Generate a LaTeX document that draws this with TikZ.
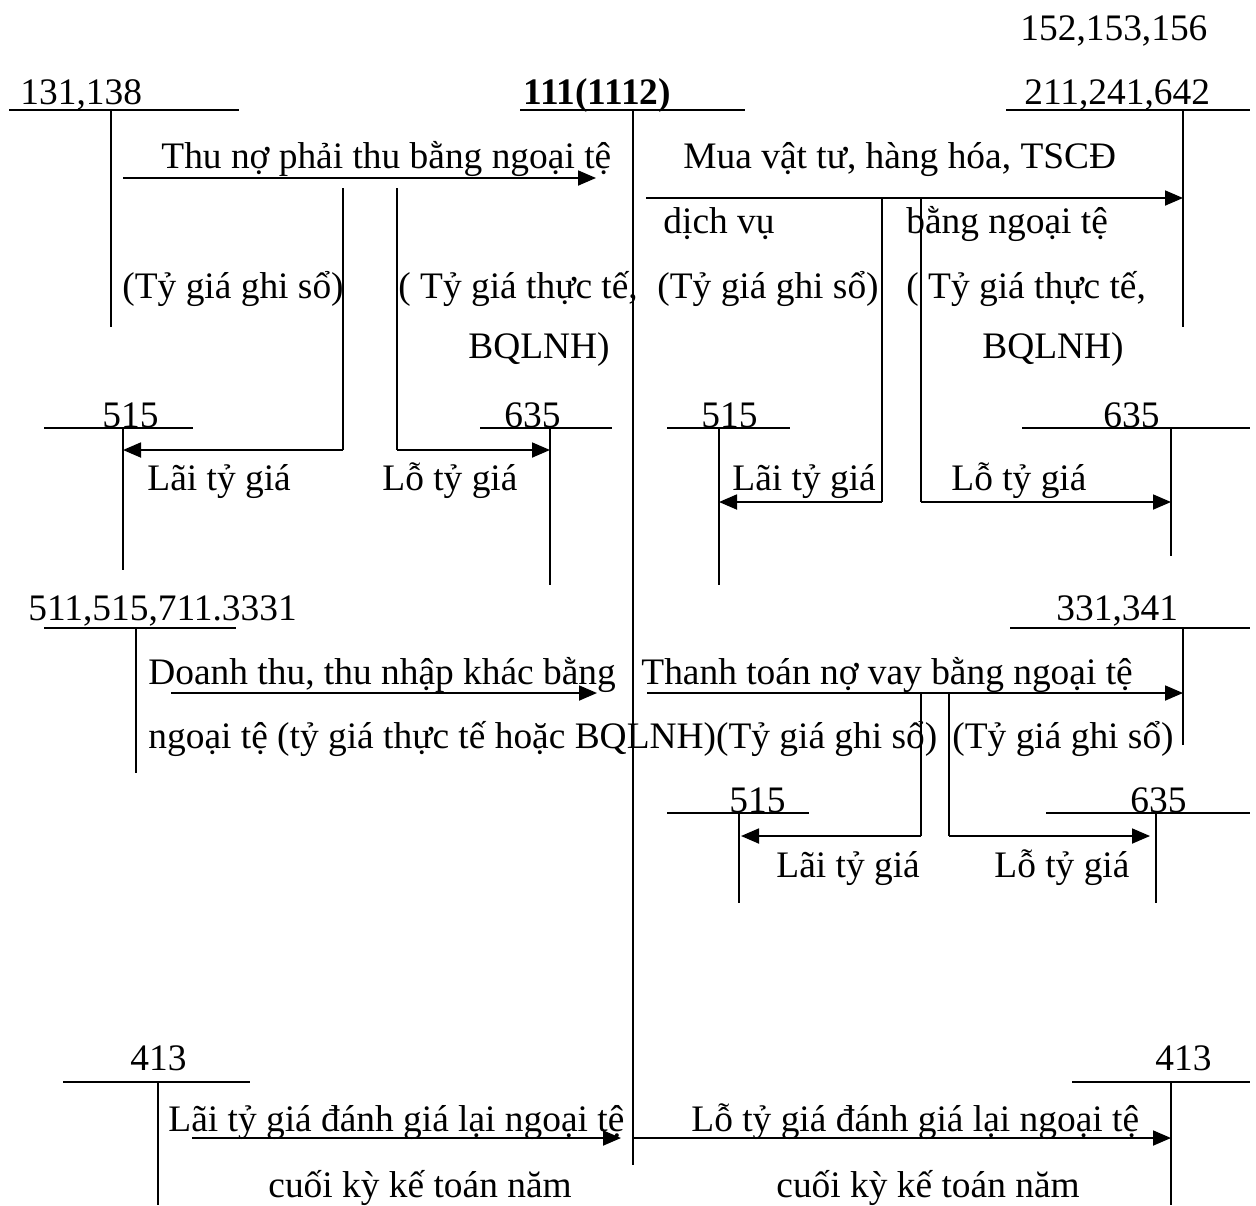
\documentclass[tikz,border=0pt]{standalone}
\usepackage{fontspec}
\setmainfont{Liberation Serif}
\usetikzlibrary{arrows.meta}
\begin{document}
\begin{tikzpicture}[x=0.5pt,y=-0.5pt,
  lbl/.style={anchor=base west,inner sep=0pt,font=\fontsize{18.7}{22}\selectfont},
  hbar/.style={line width=0.9pt},
  vbar/.style={line width=0.7pt},
  arr/.style={line width=0.9pt,-{Triangle[length=9pt,width=7.5pt]}},
  leg/.style={line width=0.7pt}]
\useasboundingbox (0,0) rectangle (1256,1205);

% ---------- labels of accounts ----------
\node[lbl] (l152) at (1020,40) {152,153,156};
\node[lbl] (l131) at (20,104) {131,138};
\node[lbl,font=\fontsize{18.7}{22}\selectfont\bfseries] (l111) at (523,104) {111(1112)};
\node[lbl] (l211) at (1024,104) {211,241,642};

% ---------- T accounts: top row ----------
\coordinate (h131a) at (9,110);   \coordinate (h131b) at (239,110);
\coordinate (v131a) at (111,110); \coordinate (v131b) at (111,327);
\draw[hbar] (h131a) -- (h131b);
\draw[vbar] (v131a) -- (v131b);

\coordinate (h111a) at (520,110); \coordinate (h111b) at (745,110);
\coordinate (v111a) at (633,110); \coordinate (v111b) at (633,1165);
\draw[hbar] (h111a) -- (h111b);
\draw[vbar] (v111a) -- (v111b);

\coordinate (h211a) at (1006,110); \coordinate (h211b) at (1250,110);
\coordinate (v211a) at (1183,110); \coordinate (v211b) at (1183,327);
\draw[hbar] (h211a) -- (h211b);
\draw[vbar] (v211a) -- (v211b);

% ---------- left block: Thu no ----------
\coordinate (a1s) at (123,178); \coordinate (a1e) at (596,178);
\draw[arr] (a1s) -- (a1e);
\node[lbl] (t1) at (161,168) {Thu nợ phải thu bằng ngoại tệ};
\node[lbl] (t2) at (122,298) {(Tỷ giá ghi sổ)};
\node[lbl] (t3) at (398,298) {( Tỷ giá thực tế,};
\node[lbl] (t4) at (468,358) {BQLNH)};

\coordinate (g1) at (343,188); \coordinate (g1b) at (343,450);
\coordinate (k1) at (397,188); \coordinate (k1b) at (397,450);

\node[lbl] (l515a) at (102,427) {515};
\coordinate (h515aa) at (44,428); \coordinate (h515ab) at (193,428);
\coordinate (v515aa) at (123,428); \coordinate (v515ab) at (123,570);
\draw[hbar] (h515aa) -- (h515ab);
\draw[vbar] (v515aa) -- (v515ab);
\coordinate (e515a) at (123,450);
\draw[leg] (g1) -- (g1b);
\draw[arr] (g1b) -- (e515a);
\node[lbl] (t5) at (147,490) {Lãi tỷ giá};

\node[lbl] (l635a) at (504,427) {635};
\coordinate (h635aa) at (480,428); \coordinate (h635ab) at (612,428);
\coordinate (v635aa) at (550,428); \coordinate (v635ab) at (550,585);
\draw[hbar] (h635aa) -- (h635ab);
\draw[vbar] (v635aa) -- (v635ab);
\coordinate (e635a) at (550,450);
\draw[leg] (k1) -- (k1b);
\draw[arr] (k1b) -- (e635a);
\node[lbl] (t6) at (382,490) {Lỗ tỷ giá};

% ---------- right block: Mua vat tu ----------
\coordinate (a2s) at (646,198); \coordinate (a2e) at (1183,198);
\draw[arr] (a2s) -- (a2e);
\node[lbl] (t7) at (683,168) {Mua vật tư, hàng hóa, TSCĐ};
\node[lbl] (t8) at (663,233) {dịch vụ};
\node[lbl] (t9) at (906,233) {bằng ngoại tệ};
\node[lbl] (t10) at (657,298) {(Tỷ giá ghi sổ)};
\node[lbl] (t11) at (906,298) {( Tỷ giá thực tế,};
\node[lbl] (t12) at (982,358) {BQLNH)};

\coordinate (g2) at (882,198); \coordinate (g2b) at (882,502);
\coordinate (k2) at (921,198); \coordinate (k2b) at (921,502);

\node[lbl] (l515b) at (701,427) {515};
\coordinate (h515ba) at (667,428); \coordinate (h515bb) at (790,428);
\coordinate (v515ba) at (719,428); \coordinate (v515bb) at (719,585);
\draw[hbar] (h515ba) -- (h515bb);
\draw[vbar] (v515ba) -- (v515bb);
\coordinate (e515b) at (719,502);
\draw[leg] (g2) -- (g2b);
\draw[arr] (g2b) -- (e515b);
\node[lbl] (t13) at (732,490) {Lãi tỷ giá};

\node[lbl] (l635b) at (1103,427) {635};
\coordinate (h635ba) at (1022,428); \coordinate (h635bb) at (1250,428);
\coordinate (v635ba) at (1171,428); \coordinate (v635bb) at (1171,556);
\draw[hbar] (h635ba) -- (h635bb);
\draw[vbar] (v635ba) -- (v635bb);
\coordinate (e635b) at (1171,502);
\draw[leg] (k2) -- (k2b);
\draw[arr] (k2b) -- (e635b);
\node[lbl] (t14) at (951,490) {Lỗ tỷ giá};

% ---------- middle row ----------
\node[lbl] (l511) at (28,620) {511,515,711.3331};
\coordinate (h511a) at (44,628); \coordinate (h511b) at (236,628);
\coordinate (v511a) at (136,628); \coordinate (v511b) at (136,773);
\draw[hbar] (h511a) -- (h511b);
\draw[vbar] (v511a) -- (v511b);
\coordinate (a3s) at (171,693); \coordinate (a3e) at (597,693);
\draw[arr] (a3s) -- (a3e);
\node[lbl] (t15) at (148,684) {Doanh thu, thu nhập khác bằng};
\node[lbl] (t16) at (148,748) {ngoại tệ (tỷ giá thực tế hoặc BQLNH)(Tỷ giá ghi sổ)};

\node[lbl] (l331) at (1056,620) {331,341};
\coordinate (h331a) at (1010,628); \coordinate (h331b) at (1250,628);
\coordinate (v331a) at (1183,628); \coordinate (v331b) at (1183,745);
\draw[hbar] (h331a) -- (h331b);
\draw[vbar] (v331a) -- (v331b);
\coordinate (a4s) at (647,693); \coordinate (a4e) at (1183,693);
\draw[arr] (a4s) -- (a4e);
\node[lbl] (t17) at (641,684) {Thanh toán nợ vay bằng ngoại tệ};
\node[lbl] (t18) at (952,748) {(Tỷ giá ghi sổ)};

\coordinate (g3) at (921,693); \coordinate (g3b) at (921,836);
\coordinate (k3) at (949,693); \coordinate (k3b) at (949,836);

\node[lbl] (l515c) at (729,812) {515};
\coordinate (h515ca) at (667,813); \coordinate (h515cb) at (809,813);
\coordinate (v515ca) at (739,813); \coordinate (v515cb) at (739,903);
\draw[hbar] (h515ca) -- (h515cb);
\draw[vbar] (v515ca) -- (v515cb);
\coordinate (e515c) at (741,836);
\draw[leg] (g3) -- (g3b);
\draw[arr] (g3b) -- (e515c);
\node[lbl] (t19) at (776,877) {Lãi tỷ giá};

\node[lbl] (l635c) at (1130,812) {635};
\coordinate (h635ca) at (1046,813); \coordinate (h635cb) at (1250,813);
\coordinate (v635ca) at (1156,813); \coordinate (v635cb) at (1156,903);
\draw[hbar] (h635ca) -- (h635cb);
\draw[vbar] (v635ca) -- (v635cb);
\coordinate (e635c) at (1150,836);
\draw[leg] (k3) -- (k3b);
\draw[arr] (k3b) -- (e635c);
\node[lbl] (t20) at (994,877) {Lỗ tỷ giá};

% ---------- bottom row: 413 ----------
\node[lbl] (l413a) at (130,1070) {413};
\coordinate (h413aa) at (63,1082); \coordinate (h413ab) at (250,1082);
\coordinate (v413aa) at (158,1082); \coordinate (v413ab) at (158,1205);
\draw[hbar] (h413aa) -- (h413ab);
\draw[vbar] (v413aa) -- (v413ab);
\coordinate (a5s) at (192,1138); \coordinate (a5e) at (621,1138);
\draw[arr] (a5s) -- (a5e);
\node[lbl] (t21) at (168,1131) {Lãi tỷ giá đánh giá lại ngoại tệ};
\node[lbl] (t22) at (268,1197) {cuối kỳ kế toán năm};

\node[lbl] (l413b) at (1155,1070) {413};
\coordinate (h413ba) at (1072,1082); \coordinate (h413bb) at (1250,1082);
\coordinate (v413ba) at (1171,1082); \coordinate (v413bb) at (1171,1205);
\draw[hbar] (h413ba) -- (h413bb);
\draw[vbar] (v413ba) -- (v413bb);
\coordinate (a6s) at (633,1138); \coordinate (a6e) at (1171,1138);
\draw[arr] (a6s) -- (a6e);
\node[lbl] (t23) at (691,1131) {Lỗ tỷ giá đánh giá lại ngoại tệ};
\node[lbl] (t24) at (776,1197) {cuối kỳ kế toán năm};
\end{tikzpicture}
\end{document}
